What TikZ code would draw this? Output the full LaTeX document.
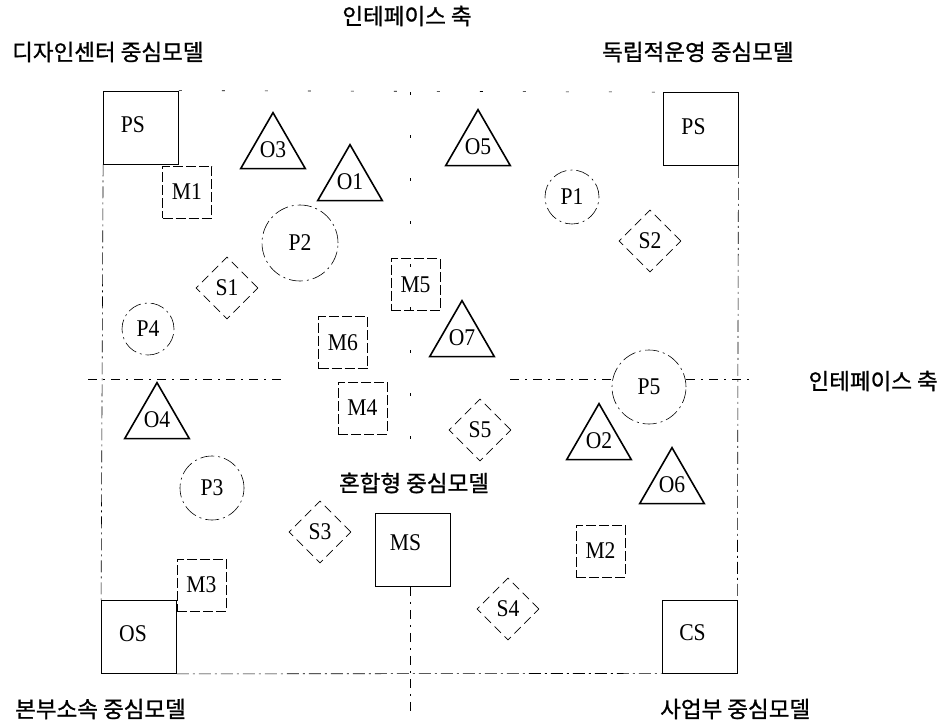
\documentclass[tikz,border=0pt]{standalone}
\usepackage{fontspec}
\setmainfont[FakeStretch=0.9]{Liberation Serif}
\newfontfamily\kr[FakeBold=1]{Noto Sans CJK KR}
\usetikzlibrary{shapes.geometric}
\begin{document}
\begin{tikzpicture}[x=1pt,y=-1pt,
  lab/.style={font=\fontsize{24}{27}\selectfont, inner sep=0pt},
  krtext/.style={font=\kr\fontsize{22.5}{26}\selectfont, inner sep=0pt},
  bigbox/.style={draw, line width=0.8pt, minimum width=75pt, minimum height=73pt, lab},
  mbox/.style={draw, line width=0.6pt, dash pattern=on 10pt off 3pt, minimum width=49pt, minimum height=52pt, lab},
  tri/.style={regular polygon, regular polygon sides=3, draw, line width=1.6pt, minimum size=70pt, lab},
  circ/.style={circle, draw, line width=0.6pt, dash pattern=on 14pt off 4pt on 2pt off 4pt, lab},
  dia/.style={diamond, draw, line width=0.6pt, dash pattern=on 9pt off 5pt, minimum width=62pt, minimum height=62pt, lab},
  frameline/.style={line width=0.6pt, dash pattern=on 12pt off 4pt on 2pt off 4pt},
  faintline/.style={line width=0.6pt, dash pattern=on 3pt off 40pt},
  axisline/.style={line width=0.6pt, dash pattern=on 9pt off 6pt on 2pt off 6pt}]
\useasboundingbox[fill=white] (0,0) rectangle (946,724);

% corner boxes
\node[bigbox] (PSL) at (141,127.5) {};
\node[bigbox] (PSR) at (700.5,129) {};
\node[bigbox] (OS)  at (139,637) {};
\node[bigbox] (CS)  at (699.5,636.5) {};
\node[bigbox] (MS)  at (412.5,550) {};
\node[lab] (PSLt) at ([shift={(-8,-3)}]PSL.center) {PS};
\node[lab] (PSRt) at ([shift={(-7,-2)}]PSR.center) {PS};
\node[lab] (OSt)  at ([shift={(-6,-3)}]OS.center) {OS};
\node[lab] (CSt)  at ([shift={(-7,-4)}]CS.center) {CS};
\node[lab] (MSt)  at ([shift={(-7,-7)}]MS.center) {MS};

% frame
\draw[frameline] (PSL.south west) -- (OS.north west);
\draw[frameline] (OS.south east) -- (CS.south west);
\draw[frameline] (PSR.south east) -- (CS.north east);
\draw[faintline] (PSL.north east) -- (PSR.north west);

% M boxes
\node[mbox] (M1) at (187,192) {M1};
\node[mbox] (M5) at (415.5,284.5) {M5};
\node[mbox] (M6) at (343,342.5) {M6};
\node[mbox] (M4) at (362.5,408) {M4};
\node[mbox] (M3) at (201.5,585) {M3};
\node[mbox] (M2) at (600.5,551) {M2};

% triangles
\node[tri] (O3) at (273,150) {O3};
\node[tri] (O1) at (350,182) {O1};
\node[tri] (O5) at (478,147) {O5};
\node[tri] (O7) at (462,338) {O7};
\node[tri] (O4) at (157,420) {O4};
\node[tri] (O2) at (599,441) {O2};
\node[tri] (O6) at (672,485) {O6};

% circles
\node[circ, minimum size=76pt] (P2) at (300,243) {P2};
\node[circ, minimum size=54pt] (P1) at (572,197) {P1};
\node[circ, minimum size=52pt] (P4) at (148,329) {P4};
\node[circ, minimum size=64pt] (P3) at (212,488) {P3};
\node[circ, minimum size=74pt] (P5) at (649,387) {P5};

% diamonds
\node[dia] (S1) at (227,288) {S1};
\node[dia] (S2) at (650,241) {S2};
\node[dia] (S3) at (320,532) {S3};
\node[dia] (S4) at (508,609) {S4};
\node[dia] (S5) at (480,430) {S5};

% axes
\coordinate (vTop) at (410,92);
\coordinate (vBot) at (410,716);
\coordinate (hL) at (88,379);
\coordinate (hR) at (752,379);
\coordinate (hGapL) at (285,379);
\coordinate (hGapR) at (510,379);
\draw[faintline] (vTop) -- (vTop |- MS.north);
\draw[axisline] (vTop |- MS.south) -- (vBot);
\draw[axisline] (hL) -- (hGapL);
\draw[axisline] (hGapR) -- (hGapR -| P5.west);
\draw[axisline] (hR -| P5.east) -- (hR);

% Korean labels
\node[krtext] (tAxis) at (407,16) {인테페이스 축};
\node[krtext, anchor=west] (tDC) at (12,52) {디자인센터 중심모델};
\node[krtext, anchor=west] (tIO) at (602,52) {독립적운영 중심모델};
\node[krtext, anchor=east] (rAxis) at (938,381) {인테페이스 축};
\node[krtext, anchor=west] (tHQ) at (15,709) {본부소속 중심모델};
\node[krtext, anchor=west] (tBU) at (660,709) {사업부 중심모델};
\node[krtext] (tMix) at (414,483) {혼합형 중심모델};
\end{tikzpicture}
\end{document}
